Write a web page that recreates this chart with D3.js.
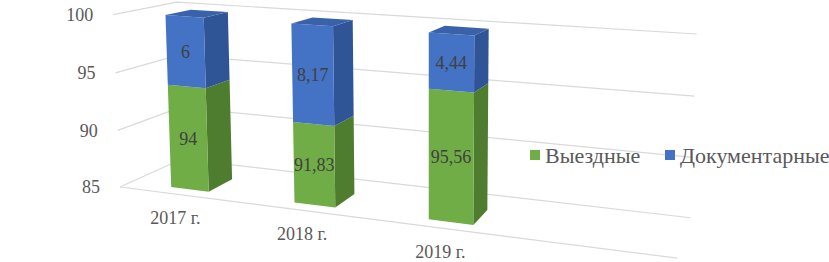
<!DOCTYPE html>
<html>
<head>
<meta charset="utf-8">
<script src="https://cdn.jsdelivr.net/npm/d3@7"></script>
<style>
  html, body { margin: 0; padding: 0; background: #ffffff; }
  svg { display: block; }
</style>
</head>
<body>
<svg id="chart" width="829" height="262" font-family="'Liberation Serif', 'Times New Roman', Times, 'DejaVu Serif', serif"></svg>
<script>
// ---------------- data ----------------
const categories = ["2017 г.", "2018 г.", "2019 г."];
const seriesNames = ["Выездные", "Документарные"];
const vyezdnye = [94, 91.83, 95.56];
const dokumentarnye = [6, 8.17, 4.44];
const yTicks = [85, 90, 95, 100];
const yDomain = [85, 100];

// ---------------- 3D camera (perspective projection) ----------------
const cam = { f: 980, cx: 478, cy: 114, dist: 1000, ox: 120, oy: 187 };
const ex = [0.9524, 0.0862, -0.2923];     // category direction
const ey = [0.00604, -0.99235, -0.12332]; // value direction
const ez = [0.3044, -0.2212, 0.9265];     // depth direction
const T = [cam.dist * (cam.ox - cam.cx) / cam.f, cam.dist * (cam.oy - cam.cy) / cam.f, cam.dist];
const world = { W: 562, H: 175, D: 108, barZ0: 18, barDepth: 44 };

function project(p) {
  const [X, Y, Z] = p;
  const px = T[0] + X * ex[0] + Y * ey[0] + Z * ez[0];
  const py = T[1] + X * ex[1] + Y * ey[1] + Z * ez[1];
  const pz = T[2] + X * ex[2] + Y * ey[2] + Z * ez[2];
  return [cam.cx + cam.f * px / pz, cam.cy + cam.f * py / pz];
}

// ---------------- scales ----------------
const slots = [...categories, "__empty__"];
const x = d3.scaleBand().domain(slots).range([0, world.W]).paddingInner(0.687).paddingOuter(0.3435);
const y = d3.scaleLinear().domain(yDomain).range([0, world.H]);

const colors = {
  "Выездные": { front: "#70ad47", side: "#4f7d30", top: "#5f9a3b" },
  "Документарные": { front: "#4472c4", side: "#2f5597", top: "#3a62ab" }
};

const svg = d3.select("#chart");
svg.append("rect").attr("width", 829).attr("height", 262).attr("fill", "#ffffff");

const line = d3.line();
const poly = pts => line(pts.map(project)) + "Z";

// ---------------- grid / walls ----------------
const grid = svg.append("g").attr("stroke", "#d9d9d9").attr("stroke-width", 1.2).attr("fill", "none");
yTicks.forEach(t => {
  const Y = y(t);
  grid.append("path").attr("d", line([project([0, Y, 0]), project([0, Y, world.D]), project([world.W, Y, world.D])]));
});
// category axis line (floor front edge)
grid.append("path").attr("d", line([project([0, 0, 0]), project([world.W, 0, 0])]));

// y tick labels
svg.append("g").selectAll("text").data(yTicks).join("text")
  .attr("x", d => project([0, y(d), 0])[0] - 20)
  .attr("y", d => project([0, y(d), 0])[1])
  .attr("dy", "0.35em")
  .attr("text-anchor", "end")
  .attr("font-size", 18)
  .attr("fill", "#595959")
  .text(d => d);

// category labels
svg.append("g").selectAll("text").data(categories).join("text")
  .attr("x", d => project([x(d) + x.bandwidth() / 2, 0, 0])[0] - 4)
  .attr("y", d => project([x(d) + x.bandwidth() / 2, 0, 0])[1] + 23)
  .attr("dy", "0.35em")
  .attr("text-anchor", "middle")
  .attr("font-size", 18)
  .attr("fill", "#595959")
  .text(d => d);

// ---------------- bars ----------------
const rows = categories.map((c, i) => ({ cat: c, "Выездные": vyezdnye[i], "Документарные": dokumentarnye[i] }));
const stacked = d3.stack().keys(seriesNames)(rows);

const barsG = svg.append("g");
const labelsG = svg.append("g");
const fmt = v => String(v).replace(".", ",");

categories.forEach((c, i) => {
  const x0 = x(c), x1 = x(c) + x.bandwidth();
  const z0 = world.barZ0, z1 = world.barZ0 + world.barDepth;
  const g = barsG.append("g");
  stacked.forEach((s, si) => {
    const d = s[i];
    const lo = y(Math.max(yDomain[0], d[0]));
    const hi = y(d[1]);
    const col = colors[s.key];
    g.append("path").attr("d", poly([[x1, lo, z0], [x1, lo, z1], [x1, hi, z1], [x1, hi, z0]])).attr("fill", col.side);
    g.append("path").attr("d", poly([[x0, lo, z0], [x1, lo, z0], [x1, hi, z0], [x0, hi, z0]])).attr("fill", col.front);
    if (si === stacked.length - 1) {
      g.append("path").attr("d", poly([[x0, hi, z0], [x1, hi, z0], [x1, hi, z1], [x0, hi, z1]])).attr("fill", col.top);
    }
    const c2 = project([(x0 + x1) / 2, (lo + hi) / 2, z0]);
    labelsG.append("text")
      .attr("x", c2[0]).attr("y", c2[1]).attr("dy", "0.35em")
      .attr("text-anchor", "middle")
      .attr("font-size", 18)
      .attr("fill", "#404040")
      .text(fmt(d.data[s.key]));
  });
});

// ---------------- legend ----------------
const legend = svg.append("g").attr("transform", "translate(530,155)");
const legendX = [0, 135];
seriesNames.forEach((n, i) => {
  const lg = legend.append("g").attr("transform", `translate(${legendX[i]},0)`);
  lg.append("rect").attr("x", 0).attr("y", -5).attr("width", 10).attr("height", 10).attr("fill", colors[n].front);
  lg.append("text").attr("x", 15).attr("y", 0).attr("dy", "0.35em")
    .attr("font-size", 22).attr("fill", "#595959").text(n);
});
</script>
</body>
</html>
